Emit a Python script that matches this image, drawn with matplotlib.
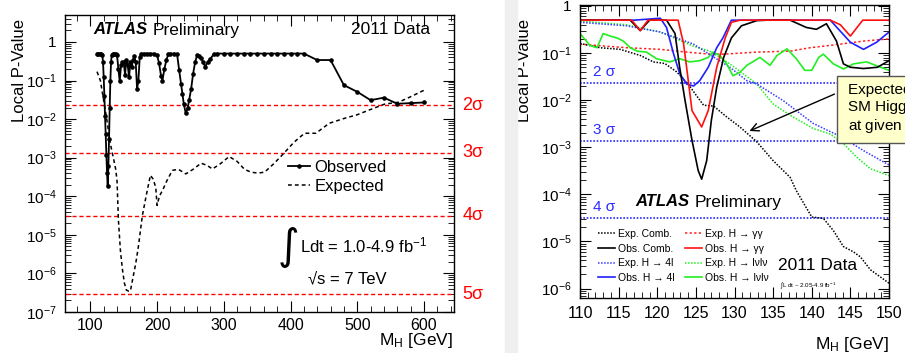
import numpy as np
import matplotlib
matplotlib.use("Agg")
import matplotlib.pyplot as plt
from matplotlib.lines import Line2D
from matplotlib.patches import Rectangle
from matplotlib.ticker import FixedLocator, MultipleLocator, LogLocator, FuncFormatter, NullFormatter

plt.rcParams['font.family'] = ['Liberation Sans', 'DejaVu Sans']
plt.rcParams['mathtext.fontset'] = 'custom'
plt.rcParams['mathtext.rm'] = 'Liberation Sans'
plt.rcParams['mathtext.it'] = 'Liberation Sans:italic'
plt.rcParams['mathtext.bf'] = 'Liberation Sans:bold'

# ---- full mass range combination (left) ----
obs_mass = [110, 112, 114, 116, 118, 119, 120, 121, 122, 123, 124, 125, 126, 127, 128, 129,
            130, 131, 132, 134, 136, 138, 140, 142, 144, 146, 148, 150, 152, 154, 156, 158,
            160, 162, 164, 166, 168, 170, 172, 174, 176, 180, 185, 190, 195, 200, 203, 206,
            208, 211, 214, 217, 220, 225, 230, 233, 236, 238, 240, 243, 246, 248, 251, 254,
            257, 260, 263, 266, 269, 272, 276, 280, 285, 290, 300, 310, 320, 330, 340, 350,
            360, 370, 380, 390, 400, 410, 420, 440, 460, 480, 500, 520, 540, 560, 580, 600]
obs_p = [0.5, 0.5, 0.5, 0.5, 0.45, 0.3, 0.12, 0.04, 0.012, 0.004, 1.2e-3, 4e-4, 1.8e-4, 6e-4, 3e-3, 0.02,
         0.1, 0.3, 0.45, 0.5, 0.5, 0.5, 0.45, 0.2, 0.095, 0.25, 0.3, 0.3, 0.14, 0.35, 0.25, 0.12,
         0.3, 0.22, 0.35, 0.42, 0.3, 0.06, 0.1, 0.4, 0.5, 0.5, 0.5, 0.5, 0.5, 0.45, 0.28, 0.13,
         0.1, 0.2, 0.35, 0.48, 0.5, 0.5, 0.48, 0.19, 0.08, 0.045, 0.025, 0.014, 0.02, 0.031, 0.06, 0.15,
         0.3, 0.45, 0.44, 0.38, 0.3, 0.23, 0.3, 0.37, 0.48, 0.5, 0.5, 0.5, 0.5, 0.5, 0.5, 0.5,
         0.5, 0.5, 0.5, 0.5, 0.5, 0.5, 0.5, 0.34, 0.34, 0.076, 0.051, 0.031, 0.036, 0.025, 0.026, 0.027]

exp_mass = [110, 115, 120, 125, 130, 135, 138, 140, 142, 145, 148, 151, 154, 157, 160, 164,
            168, 172, 178, 184, 190, 194, 198, 200, 202, 204, 208, 215, 223, 232, 243, 254,
            266, 275, 283, 295, 308, 320, 331, 341, 351, 361, 375, 390, 405, 421, 438, 458,
            481, 500, 517, 541, 562, 580, 600]
exp_p = [0.17, 0.10, 0.03, 9e-3, 2.3e-3, 9e-4, 5e-4, 2.5e-4, 2.5e-5, 4e-6, 1.3e-6, 5.6e-7, 3.7e-7, 3.5e-7, 3.5e-7, 8e-7,
         1.8e-6, 5e-6, 3.2e-5, 1.1e-4, 3.5e-4, 2.8e-4, 1.7e-4, 5.8e-5, 8e-5, 1.05e-4, 1.4e-4, 2.6e-4, 4.7e-4, 5e-4, 3.8e-4, 5e-4,
         7.2e-4, 6.3e-4, 5.1e-4, 7e-4, 1.07e-3, 8e-4, 5e-4, 4.2e-4, 4e-4, 4.2e-4, 7e-4, 1.3e-3, 2.5e-3, 4.3e-3, 4.3e-3, 7.8e-3,
         1.05e-2, 1.3e-2, 1.7e-2, 2.45e-2, 2.75e-2, 3.8e-2, 5.6e-2]

sigma_p = [0.02275, 1.35e-3, 3.167e-5, 2.867e-7]
sigma_left = ['2σ', '3σ', '4σ', '5σ']
sigma_right = ['2 σ', '3 σ', '4 σ']

left_decades = [1e-7, 1e-6, 1e-5, 1e-4, 1e-3, 1e-2, 1e-1, 1]
right_decades = [1e-6, 1e-5, 1e-4, 1e-3, 1e-2, 1e-1, 1]

# ---- low mass channels (right) ----
obs_comb_m = [110, 116.5, 117.8, 119, 121.2, 122.3, 122.9, 123.6, 124.5, 125.3, 125.75, 126.4, 127,
              127.7, 128.6, 129.6, 130.9, 132.9, 134.2, 137.2, 139.3, 140.6, 141.9, 143.2, 144.1,
              145, 146.7, 148.5, 150]
obs_comb_p = [0.5, 0.5, 0.3, 0.5, 0.5, 0.26, 0.05, 9.8e-3, 1.4e-3, 3.2e-4, 2.1e-4, 5.2e-4, 3.7e-3,
              1.9e-2, 8.1e-2, 0.21, 0.38, 0.49, 0.5, 0.5, 0.35, 0.32, 0.42, 0.18, 0.059,
              0.05, 0.047, 0.05, 0.069]

obs_4l_m = [110, 117, 120.4, 121.2, 122.1, 122.9, 123.8, 124.7, 125.5, 126.6, 127.7, 128.5, 129.6,
            142.4, 145, 146.7, 148.4, 150]
obs_4l_p = [0.5, 0.5, 0.55, 0.35, 0.098, 0.037, 0.022, 0.020, 0.026, 0.05, 0.13, 0.21, 0.5,
            0.5, 0.17, 0.12, 0.17, 0.28]

obs_gg_m = [110, 116.7, 117.8, 118.8, 122.7, 123.4, 123.8, 124.5, 125.75, 126.6, 127.7, 128.8, 129.6,
            130.7, 142.4, 143.7, 145, 146.6, 150]
obs_gg_p = [0.5, 0.5, 0.3, 0.5, 0.5, 0.16, 0.05, 6e-3, 2.7e-3, 6e-3, 0.05, 0.21, 0.45,
            0.5, 0.5, 0.4, 0.23, 0.5, 0.5]

obs_ww_m = [110, 111.3, 112.2, 113, 113.9, 114.8, 115.6, 116.5, 117.4, 118.6, 119.9, 121.6, 122.9,
            124.2, 125.5, 126.6, 127.2, 128.1, 129, 129.8, 130.7, 131.6, 133.3, 134.6, 135.5,
            136.8, 138, 139.1, 140, 140.9, 141.5, 142.8, 144.1, 145.4, 147.1, 150]
obs_ww_p = [0.26, 0.145, 0.13, 0.26, 0.23, 0.21, 0.18, 0.13, 0.11, 0.105, 0.076, 0.065, 0.076,
            0.065, 0.069, 0.081, 0.105, 0.089, 0.059, 0.033, 0.039, 0.055, 0.081, 0.055, 0.089,
            0.123, 0.076, 0.043, 0.043, 0.081, 0.095, 0.059, 0.046, 0.059, 0.065, 0.043]

exp_comb_m = [110, 112.6, 115.2, 117.8, 119.5, 121, 122.5, 124, 125, 126, 127.3, 129, 130.7, 132.9,
              135, 137.2, 138, 140, 141.5, 142.8, 144.1, 145.4, 146.3, 147.6, 150]
exp_comb_p = [0.16, 0.13, 0.12, 0.089, 0.065, 0.06, 0.04, 0.022, 0.013, 7.8e-3, 7.5e-3, 4.4e-3, 2.7e-3, 1.3e-3,
              5.2e-4, 2.3e-4, 1.2e-4, 3.3e-5, 3.1e-5, 1.7e-5, 7.8e-6, 6e-6, 4.7e-6, 2.5e-6, 1.3e-6]

exp_4l_m = [110, 116, 120.4, 124.7, 126.8, 129.4, 131.6, 132.9, 136.3, 140.2, 143.7, 146.7, 150]
exp_4l_p = [0.45, 0.38, 0.28, 0.155, 0.093, 0.05, 0.026, 0.022, 9.8e-3, 3.2e-3, 1.7e-3, 8.5e-4, 4.2e-4]

exp_gg_m = [110, 116, 120.4, 123.8, 126.8, 128.6, 132.9, 137.2, 139.8, 143.7, 146.7, 150]
exp_gg_p = [0.155, 0.13, 0.12, 0.105, 0.095, 0.095, 0.105, 0.11, 0.13, 0.155, 0.18, 0.2]

exp_ww_m = [110, 116, 120.4, 124.7, 126.8, 129.4, 132.9, 135, 137.2, 140.2, 142.4, 144.1, 145.8, 147.6, 150]
exp_ww_p = [0.48, 0.4, 0.28, 0.14, 0.11, 0.059, 0.022, 8.3e-3, 4.8e-3, 2.5e-3, 1.9e-3, 1.2e-3, 6.2e-4, 3.5e-4, 2.5e-4]

W, H = 905, 353


def fx(px):
    return px / W


def fy(py):
    return 1 - py / H


def decade_label(v, pos):
    e = int(round(np.log10(v)))
    if e == 0:
        return '1'
    return r'$10^{%d}$' % e


def style_axis(ax, decades):
    ax.set_yscale('log')
    ax.yaxis.set_major_locator(FixedLocator(decades))
    ax.yaxis.set_minor_locator(LogLocator(base=10, subs=np.arange(2, 10), numticks=20))
    ax.yaxis.set_major_formatter(FuncFormatter(decade_label))
    ax.yaxis.set_minor_formatter(NullFormatter())
    ax.tick_params(which='both', direction='in', top=True, right=True, labelsize=11.5)
    ax.tick_params(axis='y', labelsize=11, pad=6)
    ax.tick_params(which='major', length=8, width=0.8)
    ax.tick_params(which='minor', length=4, width=0.6)
    for s in ax.spines.values():
        s.set_linewidth(1.0)


fig = plt.figure(figsize=(W / 100, H / 100), dpi=100)
fig.patches.append(Rectangle((fx(505), 0), fx(12), 1, transform=fig.transFigure,
                             color='#efefef', zorder=0))

# ================= left panel =================
ax1 = fig.add_axes([fx(65), fy(312), fx(454 - 65), (312 - 15) / H])
style_axis(ax1, left_decades)
ax1.set_xlim(62, 645)
ax1.set_ylim(1e-7, 5)
ax1.xaxis.set_major_locator(MultipleLocator(100))
ax1.xaxis.set_minor_locator(MultipleLocator(20))
ax1.tick_params(axis='x', pad=4)

for p in sigma_p:
    ax1.axhline(p, color='#ff0000', lw=1.0, ls=(0, (3, 2)))
for p, lab in zip(sigma_p, sigma_left):
    ax1.text(1.022, p, lab, transform=ax1.get_yaxis_transform(), color='#ff0000',
             fontsize=13, ha='left', va='center')

ax1.plot(exp_mass, exp_p, color='black', lw=1.1, ls=(0, (2.5, 2)))
ax1.plot(obs_mass, obs_p, color='black', lw=1.3, marker='o', ms=2.3)

ax1.text(fx(93), fy(30), 'ATLAS', transform=fig.transFigure, fontsize=12,
         fontweight='bold', style='italic', va='center')
ax1.text(fx(153), fy(30), 'Preliminary', transform=fig.transFigure, fontsize=12.5, va='center')
ax1.text(fx(430), fy(30), '2011 Data', transform=fig.transFigure, fontsize=12.5,
         va='center', ha='right')

ax1.legend(handles=[Line2D([], [], color='black', lw=1.3, marker='o', ms=2.3),
                    Line2D([], [], color='black', lw=1.1, ls=(0, (2.5, 2)))],
           labels=['Observed', 'Expected'], frameon=False, fontsize=12,
           loc='upper left', bbox_to_anchor=(fx(288), fy(160)),
           bbox_transform=fig.transFigure, borderpad=0, borderaxespad=0,
           handlelength=1.3, handletextpad=0.3, labelspacing=0.25, numpoints=1)

ax1.text(fx(278), fy(247), '∫', transform=fig.transFigure, fontsize=30,
         family=['DejaVu Sans'], va='center', ha='left')
ax1.text(fx(300), fy(245), r'Ldt = 1.0-4.9 fb$^{-1}$', transform=fig.transFigure,
         fontsize=12, va='center')
ax1.text(fx(308), fy(279), '√s = 7 TeV', transform=fig.transFigure, fontsize=12, va='center')

ax1.text(fx(20), fy(19), 'Local P-Value', transform=fig.transFigure, fontsize=12,
         rotation=90, ha='center', va='top')
ax1.text(fx(453), fy(341), r'M$_{\mathrm{H}}$ [GeV]', transform=fig.transFigure,
         fontsize=12.5, ha='right', va='center')

# ================= right panel =================
ax2 = fig.add_axes([fx(580), fy(298), fx(889 - 580), (298 - 5) / H])
style_axis(ax2, right_decades)
ax2.set_xlim(110, 150)
ax2.set_ylim(6.3e-7, 1.05)
ax2.xaxis.set_major_locator(MultipleLocator(5))
ax2.xaxis.set_minor_locator(MultipleLocator(1))
ax2.tick_params(axis='x', pad=6)

for p in sigma_p[:3]:
    ax2.axhline(p, color='#2a2aff', lw=1.2, ls=(0, (1, 1)))
for p, lab in zip(sigma_p[:3], sigma_right):
    ax2.annotate(lab, xy=(0.042, p), xycoords=('axes fraction', 'data'), xytext=(0, 8),
                 textcoords='offset points', color='#2a2aff', fontsize=11, va='center')

dot = (0, (1, 1))
ax2.plot(exp_gg_m, exp_gg_p, color='#ff2020', lw=1.1, ls=(0, (1.5, 1.5)))
ax2.plot(exp_ww_m, exp_ww_p, color='#22ee22', lw=1.1, ls=dot)
ax2.plot(exp_4l_m, exp_4l_p, color='#3a3aff', lw=1.1, ls=dot)
ax2.plot(exp_comb_m, exp_comb_p, color='black', lw=1.1, ls=dot)
ax2.plot(obs_ww_m, obs_ww_p, color='#22ee22', lw=1.2)
ax2.plot(obs_4l_m, obs_4l_p, color='#2020ff', lw=1.2)
ax2.plot(obs_comb_m, obs_comb_p, color='black', lw=1.2)
ax2.plot(obs_gg_m, obs_gg_p, color='#ff1010', lw=1.2)

ax2.text(fx(635), fy(202), 'ATLAS', transform=fig.transFigure, fontsize=12,
         fontweight='bold', style='italic', va='center')
ax2.text(fx(695), fy(202), 'Preliminary', transform=fig.transFigure, fontsize=12.5, va='center')

handles = [Line2D([], [], color='black', lw=1.1, ls=dot),
           Line2D([], [], color='black', lw=1.2),
           Line2D([], [], color='#3a3aff', lw=1.1, ls=dot),
           Line2D([], [], color='#2020ff', lw=1.2),
           Line2D([], [], color='#ff2020', lw=1.1, ls=(0, (1.5, 1.5))),
           Line2D([], [], color='#ff1010', lw=1.2),
           Line2D([], [], color='#22ee22', lw=1.1, ls=dot),
           Line2D([], [], color='#22ee22', lw=1.2)]
labels = ['Exp. Comb.', 'Obs. Comb.', 'Exp. H → 4l', 'Obs. H → 4l',
          'Exp. H → γγ', 'Obs. H → γγ', 'Exp. H → lνlν', 'Obs. H → lνlν']
ax2.legend(handles=handles, labels=labels, ncol=2, frameon=False, fontsize=7.5,
           loc='upper left', bbox_to_anchor=(fx(598), fy(229)), bbox_transform=fig.transFigure,
           borderpad=0, borderaxespad=0, handlelength=1.6, handletextpad=0.3,
           labelspacing=0.45, columnspacing=1.0)

ax2.text(fx(857), fy(266), '2011 Data', transform=fig.transFigure, fontsize=12.5,
         ha='right', va='center')
ax2.text(fx(780), fy(286), r'$\int$L dt ~ 2.05-4.9 fb$^{-1}$', transform=fig.transFigure,
         fontsize=4.5, va='center')

ax2.text(fx(524), fy(19), 'Local P-Value', transform=fig.transFigure, fontsize=12,
         rotation=90, ha='center', va='top')
ax2.text(fx(889), fy(344), r'M$_{\mathrm{H}}$ [GeV]', transform=fig.transFigure,
         fontsize=12.5, ha='right', va='center')

# callout box pointing at the expected combined curve
fig.patches.append(Rectangle((fx(837), fy(143)), fx(120), (143 - 76) / H,
                             transform=fig.transFigure, facecolor='#ffffcc',
                             edgecolor='#555555', lw=1.0, zorder=5))
fig.text(fx(848), fy(109), 'Expected from\nSM Higgs boson\nat given m$_{\\mathrm{H}}$',
         fontsize=11, va='center', ha='left', linespacing=1.25, zorder=6)
ax2.annotate('', xy=(131.6, 2.1e-3), xycoords='data', xytext=(fx(837), fy(93)),
             textcoords='figure fraction', annotation_clip=False,
             arrowprops=dict(arrowstyle='->', color='black', lw=1.0, mutation_scale=14))

fig.savefig('out.png', dpi=100)
